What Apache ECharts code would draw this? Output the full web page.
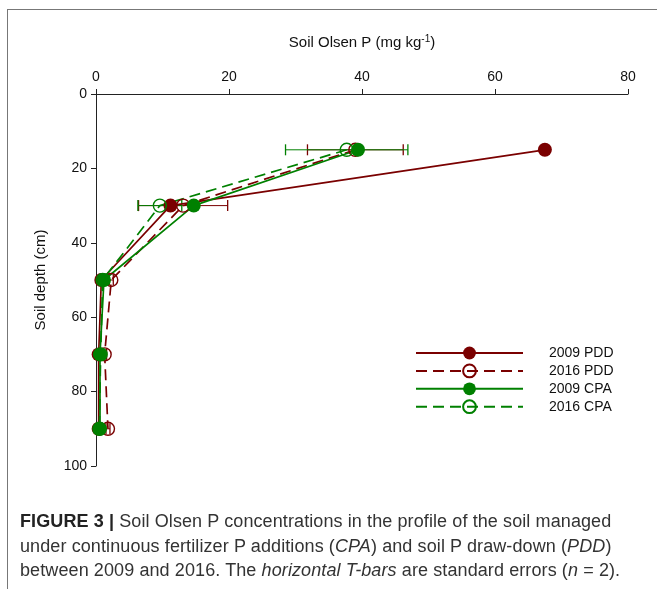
<!DOCTYPE html>
<html>
<head>
<meta charset="utf-8">
<script src="https://cdn.jsdelivr.net/npm/echarts@6/dist/echarts.min.js"></script>
<style>
  html, body { margin: 0; padding: 0; background: #fff; }
  #wrap { position: relative; width: 657px; height: 589px; overflow: hidden; }
  #frame { position: absolute; left: 7px; top: 9px; width: 700px; height: 640px;
           border-top: 1px solid #777; border-left: 1px solid #777; }
  #chart { position: absolute; left: 0; top: 0; width: 657px; height: 589px; }
  #caption { position: absolute; left: 20px; top: 509px; white-space: nowrap;
             font-family: "Liberation Sans", Arial, sans-serif; font-size: 18px;
             line-height: 24.5px; color: #333; letter-spacing: 0.1px; }
  #caption b { color: #222; }
</style>
</head>
<body>
<div id="wrap">
  <div id="frame"></div>
  <div id="chart"></div>
  <div id="caption"><b>FIGURE 3 |</b> Soil Olsen P concentrations in the profile of the soil managed<br>under continuous fertilizer P additions (<i>CPA</i>) and soil P draw-down (<i>PDD</i>)<br>between 2009 and 2016. The <i>horizontal T-bars</i> are standard errors (<i>n</i> = 2).</div>
</div>
<script>
// 土壤深度 (cm)
var depths = [15, 30, 50, 70, 90];
// Olsen P (mg/kg)
var pdd2009 = [67.5, 11.2, 0.8, 0.4, 0.4];
var pdd2016 = [39.0, 13.1, 2.3, 1.3, 1.8];
var cpa2009 = [39.4, 14.7, 1.2, 0.6, 0.6];
var cpa2016 = [37.7, 9.6, 1.0, 0.7, 0.5];
// 标准误差 (2016)
var pdd2016Se = [7.2, 6.7, 0.3, 0.3, 0.3];
var cpa2016Se = [9.2, 3.3, 0.3, 0.3, 0.3];
var xTicks = [0, 20, 40, 60, 80];
var yTicks = [0, 20, 40, 60, 80, 100];

var RED = '#7a0000', GREEN = '#008000';

function pairs(vals){
  var out = [];
  for(var i=0;i<vals.length;i++) out.push([vals[i], depths[i]]);
  return out;
}
function errData(vals, se){
  var out = [];
  for(var i=0;i<vals.length;i++) out.push([vals[i]-se[i], vals[i]+se[i], depths[i]]);
  return out;
}
function errSeries(vals, se, color){
  return {
    type: 'custom',
    silent: true,
    z: 1,
    data: errData(vals, se),
    renderItem: function(params, api){
      var a = api.coord([api.value(0), api.value(2)]);
      var b = api.coord([api.value(1), api.value(2)]);
      var h = 5.5;
      return { type: 'group', children: [
        { type: 'line', shape: {x1:a[0], y1:a[1], x2:b[0], y2:b[1]}, style: {stroke: color, lineWidth: 1} },
        { type: 'line', shape: {x1:a[0], y1:a[1]-h, x2:a[0], y2:a[1]+h}, style: {stroke: color, lineWidth: 1.3} },
        { type: 'line', shape: {x1:b[0], y1:b[1]-h, x2:b[0], y2:b[1]+h}, style: {stroke: color, lineWidth: 1.3} }
      ]};
    }
  };
}
function lineSeries(name, vals, color, dashed, filled){
  return {
    name: name,
    type: 'line',
    data: pairs(vals),
    symbol: 'circle',
    symbolSize: filled ? 14 : 13,
    z: 3,
    lineStyle: { color: color, width: 1.7, type: dashed ? [11, 6] : 'solid' },
    itemStyle: filled ? { color: color } :
      { color: 'rgba(255,255,255,0)', borderColor: color, borderWidth: 1.4 }
  };
}

var chart = echarts.init(document.getElementById('chart'));
var font = '"Liberation Sans", Arial, sans-serif';
var option = {
  animation: false,
  grid: { left: 96, top: 94, width: 532, height: 372 },
  xAxis: {
    type: 'value', position: 'top', min: 0, max: 80, interval: 20,
    name: 'Soil Olsen P (mg kg{s|-1})',
    nameLocation: 'middle', nameGap: 42,
    nameTextStyle: { fontFamily: font, fontSize: 15, color: '#111',
      rich: { s: { fontSize: 10, verticalAlign: 'top', padding: [0, 0, 8, 0], fontFamily: font, color: '#111' } } },
    axisLine: { show: true, lineStyle: { color: '#222', width: 1 } },
    axisTick: { show: true, length: 5, lineStyle: { color: '#222' } },
    axisLabel: { fontFamily: font, fontSize: 14, color: '#111', margin: 10,
      formatter: function(v){ return xTicks.indexOf(v) >= 0 ? String(v) : ''; } },
    splitLine: { show: false }
  },
  yAxis: {
    type: 'value', inverse: true, min: 0, max: 100, interval: 20,
    name: 'Soil depth (cm)', nameLocation: 'middle', nameGap: 48,
    nameTextStyle: { fontFamily: font, fontSize: 15, color: '#111' },
    axisLine: { show: true, lineStyle: { color: '#222', width: 1 } },
    axisTick: { show: true, length: 5, lineStyle: { color: '#222' } },
    axisLabel: { fontFamily: font, fontSize: 14, color: '#111', margin: 9,
      formatter: function(v){ return yTicks.indexOf(v) >= 0 ? String(v) : ''; } },
    splitLine: { show: false }
  },
  legend: {
    orient: 'vertical', left: 415, top: 346, padding: 0,
    itemWidth: 107, itemHeight: 16, itemGap: 3.5,
    textStyle: { fontFamily: font, fontSize: 14, color: '#111', padding: [0, 0, 0, 21] },
    data: ['2009 PDD', '2016 PDD', '2009 CPA', '2016 CPA']
  },
  series: [
    errSeries(pdd2016, pdd2016Se, RED),
    errSeries(cpa2016, cpa2016Se, GREEN),
    lineSeries('2009 PDD', pdd2009, RED, false, true),
    lineSeries('2016 PDD', pdd2016, RED, true, false),
    lineSeries('2009 CPA', cpa2009, GREEN, false, true),
    lineSeries('2016 CPA', cpa2016, GREEN, true, false)
  ]
};
chart.setOption(option);
</script>
</body>
</html>
